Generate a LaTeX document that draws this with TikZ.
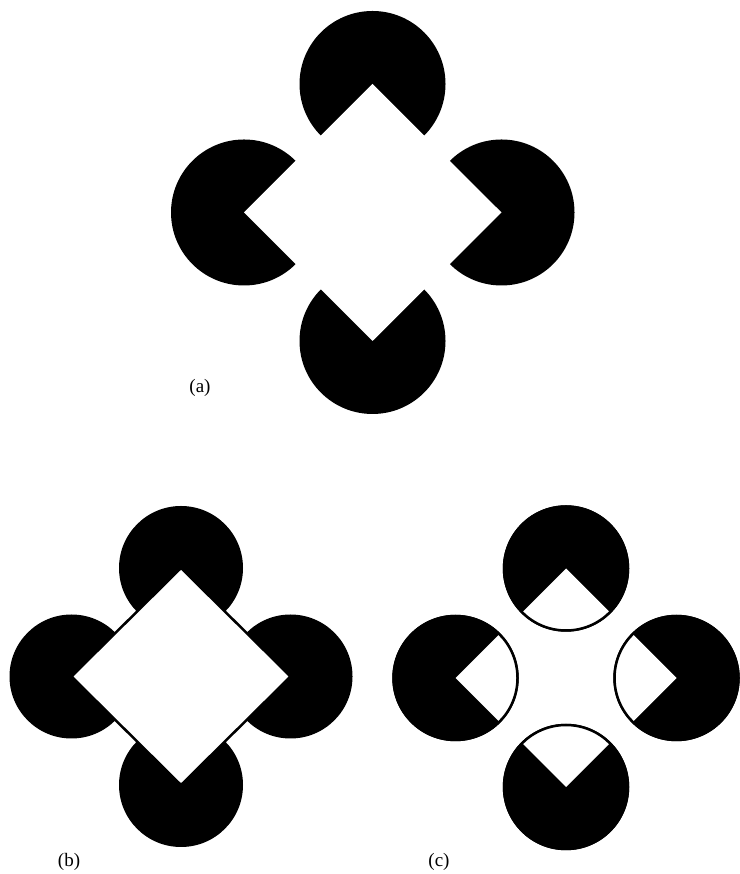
\documentclass[tikz,border=0pt]{standalone}
\usepackage{fontspec}
\setmainfont{Liberation Serif}
\begin{document}
\begin{tikzpicture}[x=1pt,y=1pt,
  disc/.style={fill=black},
  lbl/.style={font=\fontsize{19}{21}\selectfont, inner sep=0pt, anchor=center},
  whitediamond/.style={fill=white},
  rimline/.style={draw=black, line width=2.5pt}]
\useasboundingbox[fill=white] (0,0) rectangle (739,874);

% ---------- panel (a) ----------
\coordinate (aT) at (372.5,790);
\coordinate (aL) at (244,661.5);
\coordinate (aR) at (501.5,661.5);
\coordinate (aB) at (372.5,533);
\foreach \c in {aT,aL,aR,aB} \fill[disc] (\c) circle[radius=73];
\fill[whitediamond] (aT) -- (aR) -- (aB) -- (aL) -- cycle;
\node[lbl] (la) at (200,486) {(a)};

% ---------- panel (b) ----------
\coordinate (bT) at (181,306);
\coordinate (bL) at (71.5,197.5);
\coordinate (bR) at (290.5,197.5);
\coordinate (bB) at (181,89);
\foreach \c in {bT,bL,bR,bB} \fill[disc] (\c) circle[radius=62];
\filldraw[whitediamond, draw=black, line width=2.5pt, line join=miter] (bT) -- (bR) -- (bB) -- (bL) -- cycle;
\node[lbl] (lb) at (69,12) {(b)};

% ---------- panel (c) ----------
\coordinate (cT) at (566,305.5);
\coordinate (cL) at (455.5,196);
\coordinate (cR) at (676.5,196);
\coordinate (cB) at (566,87);
% top: wedge pointing down
\fill[disc] (cT) circle[radius=63.2];
\fill[white] (cT) -- ++(225:62) arc[start angle=225, end angle=315, radius=62] -- cycle;
\draw[rimline] (cT) circle[radius=62];
% bottom: wedge pointing up
\fill[disc] (cB) circle[radius=63.2];
\fill[white] (cB) -- ++(45:62) arc[start angle=45, end angle=135, radius=62] -- cycle;
\draw[rimline] (cB) circle[radius=62];
% left: wedge pointing right
\fill[disc] (cL) circle[radius=63.2];
\fill[white] (cL) -- ++(-45:62) arc[start angle=-45, end angle=45, radius=62] -- cycle;
\draw[rimline] (cL) circle[radius=62];
% right: wedge pointing left
\fill[disc] (cR) circle[radius=63.2];
\fill[white] (cR) -- ++(135:62) arc[start angle=135, end angle=225, radius=62] -- cycle;
\draw[rimline] (cR) circle[radius=62];
\node[lbl] (lc) at (439,12) {(c)};
\end{tikzpicture}
\end{document}
